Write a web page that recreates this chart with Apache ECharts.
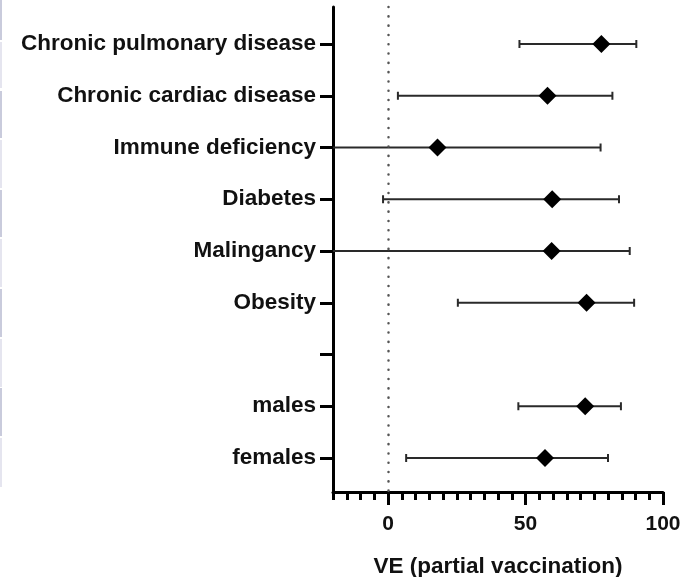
<!DOCTYPE html>
<html>
<head>
<meta charset="utf-8">
<script src="https://cdn.jsdelivr.net/npm/echarts@6/dist/echarts.min.js"></script>
<style>
html,body{margin:0;padding:0;background:#fff;}
#chart{width:687px;height:577px;}
</style>
</head>
<body>
<div id="chart"></div>
<script>
const categories = ['Chronic pulmonary disease','Chronic cardiac disease','Immune deficiency','Diabetes','Malingancy','Obesity','','males','females'];
const estimates = [77.6, 58.0, 18.0, 59.7, 59.5, 72.2, null, 71.7, 57.1];
const lowerCI   = [47.8, 3.6, -40, -1.8, -40, 25.4, null, 47.4, 6.6];
const upperCI   = [90.3, 81.6, 77.3, 84.0, 87.9, 89.5, null, 84.7, 80.0];
const xTickLabels = [0, 50, 100];
const xMin = -20, xMax = 100, xMinorStep = 5;
const referenceValue = 0;

const catIdx = categories.map((c, i) => i);
const font = '"Liberation Sans", Arial, sans-serif';

const ciData = [], ptData = [];
catIdx.forEach(i => {
  if (estimates[i] != null) {
    ciData.push([lowerCI[i], upperCI[i], i]);
    ptData.push([estimates[i], i]);
  }
});

// decorative left-edge stripes (scan artifact)
const stripes = [[0,40,'#c9cbdc'],[42,88,'#e5e5ef'],[91,138,'#c9cbdc'],[140,188,'#e5e5ef'],[190,237,'#c9cbdc'],[239,287,'#e5e5ef'],[289,337,'#c9cbdc'],[339,387,'#e5e5ef'],[388,436,'#c9cbdc'],[438,487,'#e5e5ef']];

const chart = echarts.init(document.getElementById('chart'), null, {renderer: 'canvas'});
chart.setOption({
  animation: false,
  backgroundColor: '#fff',
  graphic: stripes.map(s => ({type: 'rect', shape: {x: 0, y: s[0], width: 2, height: s[1] - s[0]}, style: {fill: s[2]}, silent: true})),
  grid: {left: 333, top: 7, right: 24, bottom: 85, containLabel: false, outerBoundsMode: 'none'},
  xAxis: [
    {
      type: 'value', min: xMin, max: xMax, interval: xMinorStep, position: 'bottom',
      axisLine: {show: true, onZero: false, lineStyle: {color: '#000', width: 3}},
      axisTick: {show: true, length: 8, lineStyle: {color: '#000', width: 3}},
      axisLabel: {show: false},
      splitLine: {show: false}
    },
    {
      type: 'value', min: xMin, max: xMax, position: 'bottom',
      axisLine: {show: false, onZero: false},
      axisTick: {show: true, length: 13, customValues: xTickLabels, lineStyle: {color: '#000', width: 3}},
      axisLabel: {show: true, customValues: xTickLabels, margin: 22, color: '#111', fontSize: 21, fontWeight: 'bold', fontFamily: font},
      splitLine: {show: false},
      name: 'VE (partial vaccination)', nameLocation: 'middle', nameGap: 63,
      nameTextStyle: {color: '#111', fontSize: 22.5, fontWeight: 'bold', fontFamily: font}
    }
  ],
  yAxis: {
    type: 'value', inverse: true, min: -0.715, max: 8.657,
    axisLine: {show: true, onZero: false, lineStyle: {color: '#000', width: 3}},
    axisTick: {show: true, length: 13, customValues: catIdx, lineStyle: {color: '#000', width: 3}},
    axisLabel: {show: true, customValues: catIdx, margin: 17, formatter: v => categories[Math.round(v)] || '',
      color: '#111', fontSize: 22.5, fontWeight: 'bold', fontFamily: font},
    splitLine: {show: false}
  },
  series: [
    {
      type: 'custom', xAxisIndex: 0, clip: true, data: ciData,
      renderItem: function (params, api) {
        const y = api.value(2);
        const a = api.coord([api.value(0), y]);
        const b = api.coord([api.value(1), y]);
        const h = 4;
        const style = {stroke: '#2a2a2a', lineWidth: 2};
        return {type: 'group', children: [
          {type: 'line', shape: {x1: a[0], y1: a[1], x2: b[0], y2: b[1]}, style: style},
          {type: 'line', shape: {x1: a[0], y1: a[1] - h, x2: a[0], y2: a[1] + h}, style: style},
          {type: 'line', shape: {x1: b[0], y1: b[1] - h, x2: b[0], y2: b[1] + h}, style: style}
        ]};
      },
      z: 3
    },
    {
      type: 'scatter', xAxisIndex: 0, data: ptData, symbol: 'diamond', symbolSize: [18, 18],
      itemStyle: {color: '#000', opacity: 1}, z: 4,
      markLine: {
        silent: true, symbol: 'none', label: {show: false},
        lineStyle: {color: '#555', width: 2.5, type: [0.1, 9.2], cap: 'round'},
        data: [{xAxis: referenceValue}]
      }
    }
  ]
});
</script>
</body>
</html>
